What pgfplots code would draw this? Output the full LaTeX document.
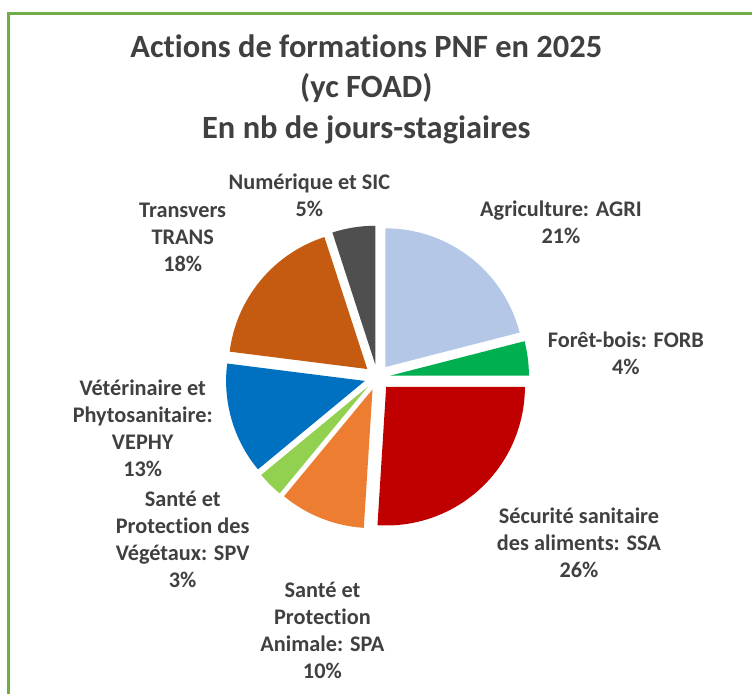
\documentclass[border=0pt]{standalone}
\usepackage{pgfplots}
\pgfplotsset{compat=1.18}
\usepackage{pgfplotstable}
\usepackage{fontspec}
\setmainfont{Carlito}[Ligatures={NoCommon}]
\definecolor{agri}{HTML}{B4C7E7}
\definecolor{forb}{HTML}{00B050}
\definecolor{ssa}{HTML}{C00000}
\definecolor{spa}{HTML}{ED7D31}
\definecolor{spv}{HTML}{92D050}
\definecolor{vephy}{HTML}{0070C0}
\definecolor{trans}{HTML}{C55A11}
\definecolor{sic}{HTML}{4F4F4F}
\definecolor{txt}{HTML}{404040}
\definecolor{framec}{HTML}{70AD47}
\tikzset{lab/.style={font=\bfseries\fontsize{12.7}{15.4}\selectfont, text=txt, align=center, inner sep=0pt}}

\pgfplotstableread[col sep=comma]{
share,col
21,agri
4,forb
26,ssa
10,spa
3,spv
13,vephy
18,trans
5,sic
}\piedata

\begin{document}
\begin{tikzpicture}
\begin{axis}[at={(0,0)}, anchor=south west, scale only axis,
  width=15.06cm, height=13.9cm,
  xmin=0, xmax=753, ymin=0, ymax=695,
  hide axis, clip=false]
\path (axis cs:0,0) rectangle (axis cs:753,695);
\gdef\angstart{90}
\foreach \i in {0,...,7}{
  \pgfplotstablegetelem{\i}{share}\of\piedata \let\sh\pgfplotsretval
  \pgfplotstablegetelem{\i}{col}\of\piedata \let\cl\pgfplotsretval
  \pgfmathsetmacro\aone{\angstart}
  \pgfmathsetmacro\atwo{\angstart-3.6*\sh}
  \pgfmathsetmacro\amid{(\aone+\atwo)/2}
  \edef\doslice{\noexpand\fill[\cl] (axis cs:378,317) ++(\amid:0.26cm) -- ++(\aone:2.78cm) arc[start angle=\aone, end angle=\atwo, radius=2.78cm] -- cycle;}
  \doslice
  \xdef\angstart{\atwo}
}
\draw[framec, line width=1.6pt] (axis cs:8.5,0) -- (axis cs:8.5,681.5) -- (axis cs:753,681.5);
\node[font=\bfseries\fontsize{18.5}{23.3}\selectfont, text=txt, align=center, inner sep=0pt] at (axis cs:367,605.5) {Actions de formations PNF en 2025\\(yc FOAD)\\En nb de jours-stagiaires};
\node[lab] at (axis cs:310,499.5) {Numérique et SIC\\5\%};
\node[lab] at (axis cs:562,472) {Agriculture: AGRI\\21\%};
\node[lab] at (axis cs:183,457.5) {Transvers\\TRANS\\18\%};
\node[lab] at (axis cs:627,341.5) {Forêt-bois: FORB\\4\%};
\node[lab] at (axis cs:143,266) {Vétérinaire et\\Phytosanitaire:\\VEPHY\\13\%};
\node[lab] at (axis cs:183,155) {Santé et\\Protection des\\Végétaux: SPV\\3\%};
\node[lab] at (axis cs:580,151) {Sécurité sanitaire\\des aliments: SSA\\26\%};
\node[lab] at (axis cs:323,63) {Santé et\\Protection\\Animale: SPA\\10\%};
\end{axis}
\end{tikzpicture}
\end{document}
